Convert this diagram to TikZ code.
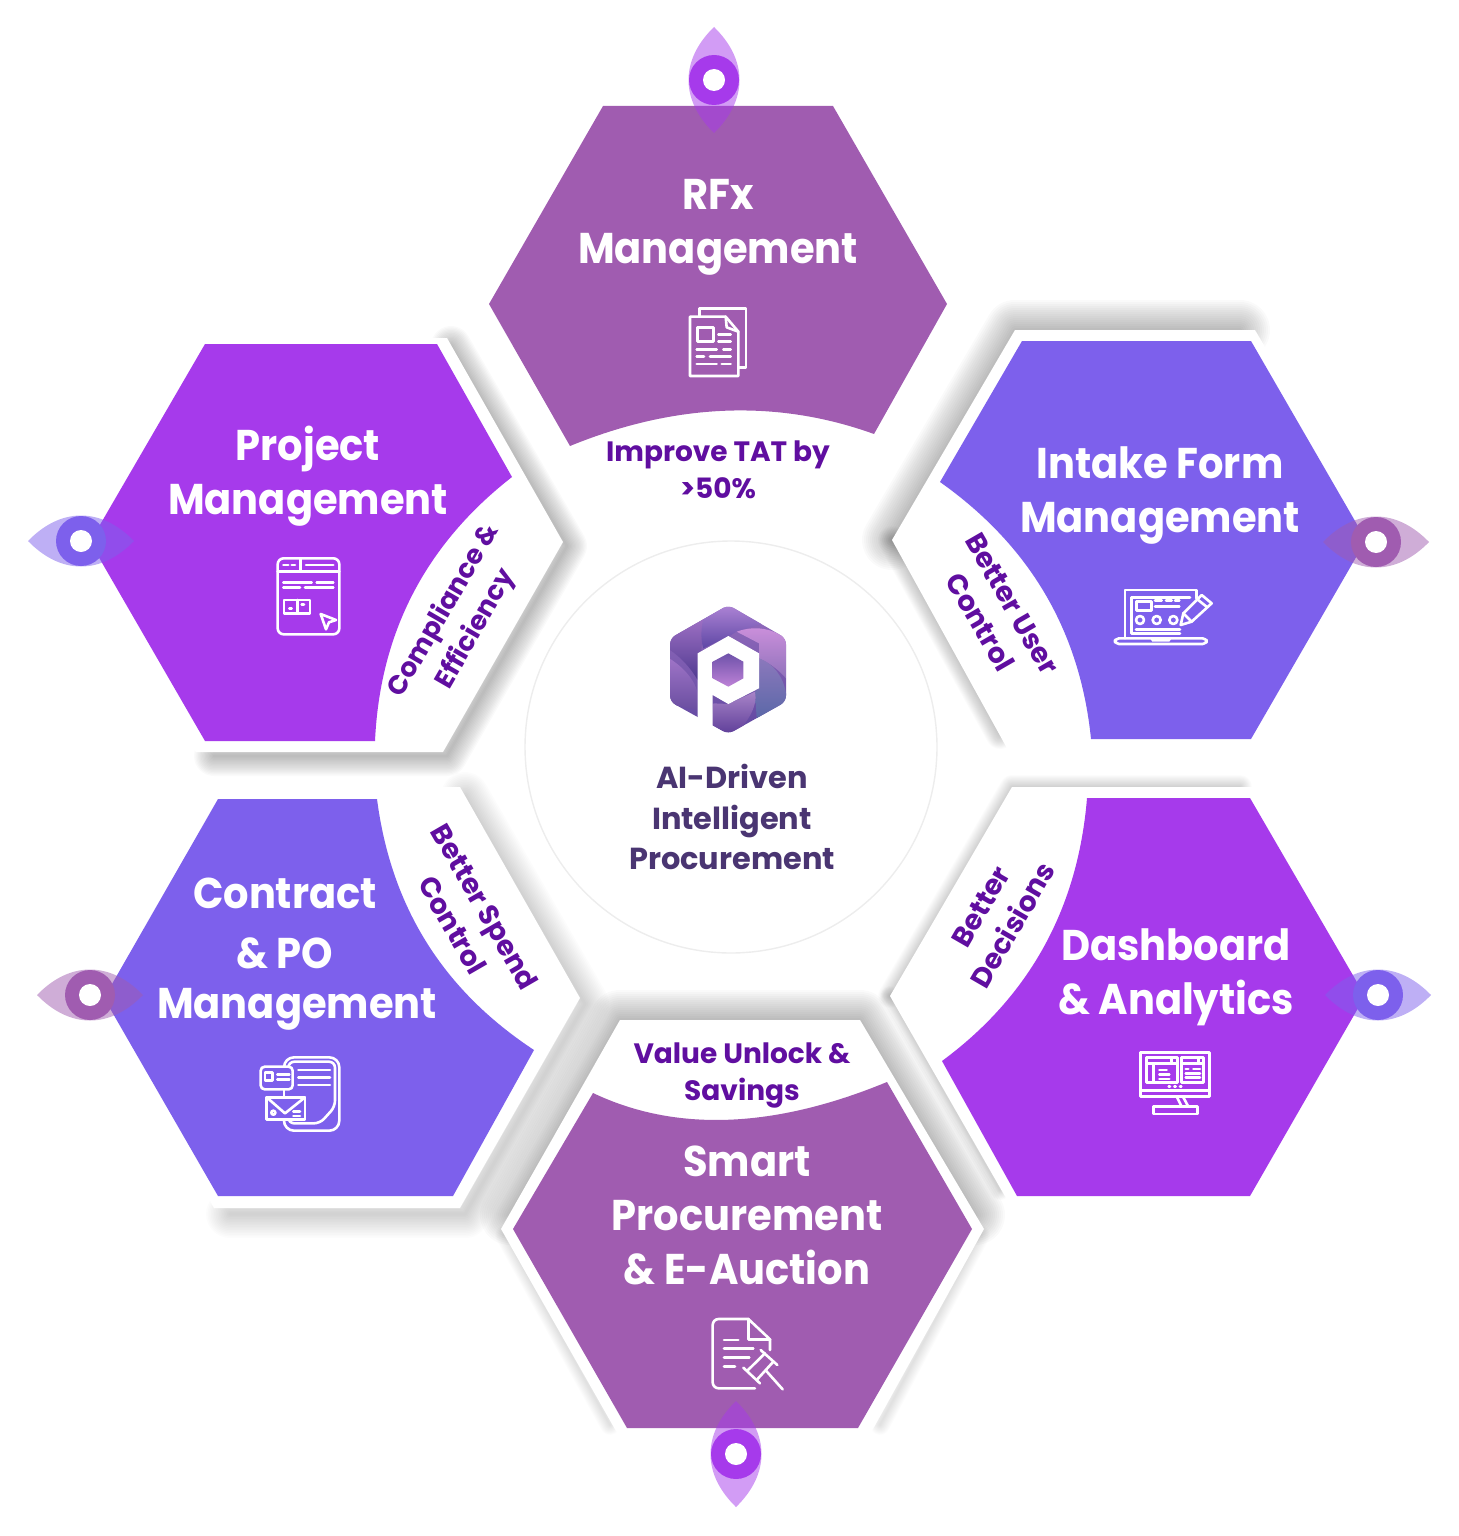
\documentclass[tikz,border=0pt]{standalone}
\usepackage{fontspec}
\setmainfont{Poppins}
\newfontfamily\titlefont{Poppins}[FakeStretch=0.93]
\definecolor{PlumColor}{RGB}{160,92,176}
\definecolor{VioletColor}{RGB}{166,58,235}
\definecolor{IndigoColor}{RGB}{125,96,236}
\definecolor{BandTextColor}{RGB}{96,14,160}
\definecolor{CoreTextColor}{RGB}{74,53,114}
\usetikzlibrary{positioning}
\tikzset{
  title/.style={text=white, font=\titlefont\bfseries\fontsize{21.5}{27}\selectfont, align=center},
  bandtext/.style={text=BandTextColor, font=\bfseries\fontsize{14}{18.5}\selectfont, align=center},
  coretext/.style={text=CoreTextColor, font=\bfseries\fontsize{15.2}{20.3}\selectfont, align=center},
  icon/.style={draw=white, line width=1.3pt, line cap=round, line join=round},
  shadowlayer/.style={draw=black, line join=round, line cap=round}
}
% blurred edge of a white panel: offset, outline, widest line in pt, opacity of one layer
\newcommand{\softshadow}[4]{%
  \foreach \w in {1,...,15} {
    \draw[shadowlayer, opacity=#4, shift={#1}, line width=\w*#3/15*1pt] #2;
  }
}
% eye marker on a corner: centre, rotation, colour
\newcommand{\eyemark}[3]{%
  \begin{scope}[shift={#1}, rotate=#2]
    \fill[#3, opacity=0.5] (-53,0) .. controls (-20,-34) and (20,-34) .. (53,0)
      .. controls (20,34) and (-20,34) .. (-53,0) -- cycle;
    \fill[#3] (0,0) circle (25);
    \fill[white] (0,0) circle (11);
  \end{scope}
}
\begin{document}
\begin{tikzpicture}[x=0.5pt, y=-0.5pt]
  \useasboundingbox (0,0) rectangle (1459,1536);

  % Shadows behind the white panels
  \softshadow{(4,4)}{(447,342) -- (563,542) -- (443,752) -- (210,752)}{20}{0.018}
  \softshadow{(5,6)}{(460,790) -- (580,998) -- (460,1208) -- (225,1208)}{24}{0.012}
  \softshadow{(0,0)}{(892,540) -- (1015,330) -- (1240,330)}{30}{0.02}
  \softshadow{(0,0)}{(892,540) -- (1000,735)}{14}{0.015}
  \softshadow{(0,0)}{(890,996) -- (1012,787) -- (1240,787)}{12}{0.012}
  \softshadow{(0,0)}{(890,996) -- (1000,1190)}{10}{0.01}
  \softshadow{(0,0)}{(510,1215) -- (620,1020) -- (860,1020) -- (975,1215)}{30}{0.02}
  \softshadow{(0,0)}{(505,1235) -- (610,1425)}{10}{0.008}
  \softshadow{(0,0)}{(980,1235) -- (880,1425)}{10}{0.008}

  % White panels
  \fill[white] (196,338) -- (447,338) -- (563,542) -- (443,752) -- (196,752) -- (78,542) -- cycle;
  \fill[white] (214,787) -- (460,787) -- (580,998) -- (460,1208) -- (214,1208) -- (96,998) -- cycle;
  \fill[white] (1015,330) -- (1255,330) -- (1378,540) -- (1255,750) -- (1008,750) -- (892,540) -- cycle;
  \fill[white] (1012,787) -- (1252,787) -- (1375,996) -- (1252,1205) -- (1010,1205) -- (890,996) -- cycle;
  \fill[white] (620,1020) -- (860,1020) -- (984,1229) -- (868,1438) -- (620,1438) -- (501,1229) -- cycle;

  % Coloured parts of the six hexagons
  \fill[PlumColor] (603,106) -- (833,106) -- (947,304) -- (874,434)
    .. controls (777,399) and (675,403) .. (570,446) -- (489,304) -- cycle;
  \fill[VioletColor] (205,344) -- (437,344) -- (512,477)
    .. controls (426,544) and (380,632) .. (375,741) -- (205,741) -- (90,542) -- cycle;
  \fill[IndigoColor] (1022,341) -- (1251,341) -- (1366,540) -- (1251,739) -- (1091,739)
    .. controls (1080,630) and (1029,545) .. (940,482) -- cycle;
  \fill[VioletColor] (1087,798) -- (1250,798) -- (1365,996) -- (1250,1196) -- (1017,1196) -- (942,1061)
    .. controls (1030,996) and (1078,908) .. (1087,798) -- cycle;
  \fill[PlumColor] (593,1093) .. controls (675,1132) and (773,1129) .. (887,1082)
    -- (972,1229) -- (858,1428) -- (627,1428) -- (513,1229) -- cycle;
  \fill[IndigoColor] (218,799) -- (377,799) .. controls (391,907) and (443,990) .. (534,1050)
    -- (453,1196) -- (218,1196) -- (104,998) -- cycle;

  % Middle circle
  \draw[fill=white, draw=black!7, line width=0.7pt] (731,747) circle (206);

  % Eye markers
  \eyemark{(714,80)}{90}{VioletColor}
  \eyemark{(81,541)}{0}{IndigoColor}
  \eyemark{(1376,542)}{0}{PlumColor}
  \eyemark{(90,995)}{0}{PlumColor}
  \eyemark{(1378,995)}{0}{IndigoColor}
  \eyemark{(736,1454)}{90}{VioletColor}

  % Titles
  \node[title] (rfxtitle) at (718,227) {RFx\\Management};
  \node[title] (projecttitle) at (308,476) {Project\\Management};
  \node[title] (intaketitle) at (1160,495) {Intake Form\\Management};
  \node[title] (contracttitle) at (285,923) {Contract\\[3pt]\& PO};
  \node[title] (contracttitlelast) at (297,1009) {Management};
  \node[title] (dashboardtitle) at (1176,977) {Dashboard\\\& Analytics};
  \node[title] (smarttitle) at (747,1215) {Smart\\Procurement\\\& E-Auction};

  % Texts on the white bands
  \node[bandtext] (tatband) at (718,470) {Improve TAT by\\>50\%};
  \node[bandtext, rotate=60, font=\bfseries\fontsize{13.3}{18.5}\selectfont] (complianceband) at (460,620) {Compliance \&\\Efficiency};
  \node[bandtext, rotate=-60] (userband) at (996,613) {Better User\\Control};
  \node[bandtext, rotate=-60] (spendband) at (469,916) {Better Spend\\Control};
  \node[bandtext, rotate=60] (decisionband) at (997,916) {Better\\Decisions};
  \node[bandtext] (valueband) at (742,1075) {Value Unlock \&\\Savings};

  % Logo
  \begin{scope}[shift={(560,560)}, scale=1/3]
    \begin{scope}
      \clip[rounded corners=3pt] (505,135) -- (678,235) -- (678,425) -- (505,522) -- (330,425) -- (330,235) -- cycle;
      \shade[top color={rgb,255:red,150;green,110;blue,190}, bottom color={rgb,255:red,95;green,70;blue,160}] (320,125) rectangle (690,530);
      \shade[top color={rgb,255:red,158;green,112;blue,196}, bottom color={rgb,255:red,79;green,58;blue,144}]
        (330,235) -- (430,175) -- (425,260) -- (413,360) .. controls (390,320) and (360,290) .. (330,270) -- cycle;
      \shade[top color={rgb,255:red,179;green,136;blue,216}, bottom color={rgb,255:red,94;green,71;blue,165}]
        (430,175) -- (505,125) -- (610,190) -- (530,215) -- (505,230) -- (430,265) .. controls (420,230) and (425,200) .. (430,175) -- cycle;
      \shade[top color={rgb,255:red,203;green,143;blue,219}, bottom color={rgb,255:red,138;green,112;blue,184}]
        (530,215) .. controls (570,200) and (620,200) .. (660,225) -- (690,235) -- (690,370) .. controls (660,330) and (630,310) .. (597,295) -- (597,250) -- cycle;
      \shade[top color={rgb,255:red,139;green,120;blue,188}, bottom color={rgb,255:red,91;green,104;blue,168}]
        (597,295) .. controls (640,310) and (670,350) .. (678,400) -- (690,430) -- (590,475) -- (585,395) -- (597,385) -- cycle;
      \shade[top color={rgb,255:red,168;green,132;blue,200}, bottom color={rgb,255:red,90;green,58;blue,150}]
        (460,430) -- (505,432) -- (585,395) .. controls (595,440) and (560,490) .. (520,530) -- (450,530) -- cycle;
      \shade[top color={rgb,255:red,160;green,117;blue,200}, bottom color={rgb,255:red,106;green,78;blue,160}]
        (320,290) .. controls (370,320) and (405,360) .. (413,400) -- (413,450) -- (320,430) -- cycle;
    \end{scope}
    \fill[white, line join=round] (413,280) -- (505,228) -- (597,280) -- (597,385) -- (505,432) -- (458,405) -- (458,505) -- (413,478) -- cycle;
    \shade[top color={rgb,255:red,110;green,82;blue,170}, bottom color={rgb,255:red,190;green,130;blue,215}]
      (505,280) -- (550,305) -- (550,355) -- (505,380) -- (458,355) -- (458,305) -- cycle;
  \end{scope}
  \node[coretext] (coretitle) at (732,817) {AI-Driven\\Intelligent\\Procurement};

  % RFx icon
  \begin{scope}[icon, shift={(660,290)}, scale=1/3]
    \draw[icon] (118,80) -- (118,55) -- (258,55) -- (258,232) -- (235,232);
    \draw[icon] (90,80) -- (197,80) -- (235,125) -- (235,258) -- (90,258) -- cycle;
    \draw[icon] (197,80) -- (200,112) -- (235,125);
    \draw[icon] (112,113) rectangle (160,155);
    \foreach \ax/\bx/\ly in {175/212/133, 175/212/155, 110/170/178, 190/212/178, 110/132/200, 150/212/200, 110/170/222, 185/212/222}
      \draw[icon] (\ax,\ly) -- (\bx,\ly);
  \end{scope}

  % Intake icon
  \begin{scope}[shift={(1090,570)}, scale=1/3]
    \draw[icon] (320,85) -- (320,60) -- (105,60) -- (105,205);
    \draw[icon] (300,82) -- (125,82) -- (125,190) -- (270,190);
    \draw[icon] (140,95) rectangle (185,122);
    \foreach \ax/\bx/\ly in {195/215/92, 228/245/92, 255/268/92, 195/268/110, 138/270/178}
      \draw[icon] (\ax,\ly) -- (\bx,\ly);
    \foreach \cx in {150,200,250}
      \draw[icon] (\cx,150) circle (12);
    \draw[icon, rounded corners=2pt] (75,205) -- (350,205) -- (350,222) -- (75,222) -- cycle;
    \fill[white] (180,205) -- (245,205) -- (238,215) -- (187,215) -- cycle;
    \draw[icon, fill=IndigoColor] (272,165) -- (280,130) -- (335,75) -- (365,100) -- (305,155) -- cycle;
    \draw[icon] (322,88) -- (352,112);
    \draw[icon] (280,130) -- (305,155);
  \end{scope}

  % Project icon
  \begin{scope}[shift={(260,545)}, scale=1/3]
    \draw[icon, rounded corners=3pt] (53,40) rectangle (238,268);
    \draw[icon] (53,80) -- (238,80);
    \draw[icon] (122,40) -- (122,80);
    \foreach \ax/\bx/\ly in {70/85/60, 95/105/60, 138/220/60, 70/155/112, 170/220/112, 70/120/128, 135/220/128, 88/95/190, 125/132/178}
      \draw[icon] (\ax,\ly) -- (\bx,\ly);
    \draw[icon] (72,165) rectangle (150,205);
    \draw[icon] (112,165) -- (112,205);
    \draw[icon] (182,207) -- (228,225) -- (207,232) -- (198,253) -- cycle;
  \end{scope}

  % Contract icon
  \begin{scope}[shift={(240,1040)}, scale=1/3]
    \draw[icon, rounded corners=5pt] (132,80) -- (132,52) -- (298,52) -- (298,272) -- (132,272) -- (132,238);
    \draw[icon, rounded corners=3pt] (145,80) -- (145,65) -- (285,65) -- (285,200) -- (240,250) -- (145,250) -- (145,238);
    \foreach \ly in {90,112,135}
      \draw[icon] (175,\ly) -- (270,\ly);
    \draw[icon, fill=IndigoColor, rounded corners=2pt] (62,80) rectangle (158,148);
    \draw[icon] (75,98) rectangle (98,122);
    \draw[icon] (112,103) -- (148,103);
    \draw[icon] (112,118) -- (148,118);
    \draw[icon] (132,148) -- (132,172);
    \draw[icon, fill=IndigoColor] (80,172) rectangle (195,238);
    \draw[icon] (80,172) -- (135,220) -- (195,172);
    \draw[icon] (100,218) circle (6);
    \draw[icon] (160,215) -- (180,215);
    \draw[icon] (160,228) -- (180,228);
  \end{scope}

  % Dashboard icon
  \begin{scope}[shift={(1120,1040)}, scale=1/3]
    \draw[icon] (62,38) rectangle (268,170);
    \draw[icon] (62,152) -- (268,152);
    \draw[icon] (80,52) rectangle (172,128);
    \draw[icon] (185,52) rectangle (250,128);
    \foreach \ax/\bx/\ly in {80/172/70, 185/250/70, 118/140/90, 118/148/103, 118/148/117, 197/205/87, 220/240/87, 197/240/100, 197/240/113, 146/150/140, 163/167/140, 180/184/140}
      \draw[icon] (\ax,\ly) -- (\bx,\ly);
    \draw[icon] (155,52) -- (155,70);
    \draw[icon] (235,52) -- (235,70);
    \draw[icon] (100,70) -- (100,128);
    \draw[icon] (170,170) -- (185,200);
    \draw[icon] (190,172) -- (205,200);
    \draw[icon] (100,200) rectangle (232,222);
  \end{scope}

  % Smart procurement icon
  \begin{scope}[shift={(690,1300)}, scale=1/3]
    \draw[icon, rounded corners=3pt] (195,265) -- (68,265) -- (68,57) -- (175,57);
    \draw[icon] (175,57) -- (240,118) -- (240,150);
    \draw[icon] (175,57) -- (175,118) -- (240,118);
    \foreach \ax/\bx/\ly in {102/145/120, 102/190/145, 102/178/172, 102/135/200}
      \draw[icon] (\ax,\ly) -- (\bx,\ly);
    \draw[icon] (160,203) -- (210,250);
    \draw[icon] (212,150) -- (262,195);
    \draw[icon] (172,212) -- (225,160);
    \draw[icon] (200,240) -- (250,185);
    \draw[icon] (228,212) -- (278,268);
  \end{scope}
\end{tikzpicture}
\end{document}
